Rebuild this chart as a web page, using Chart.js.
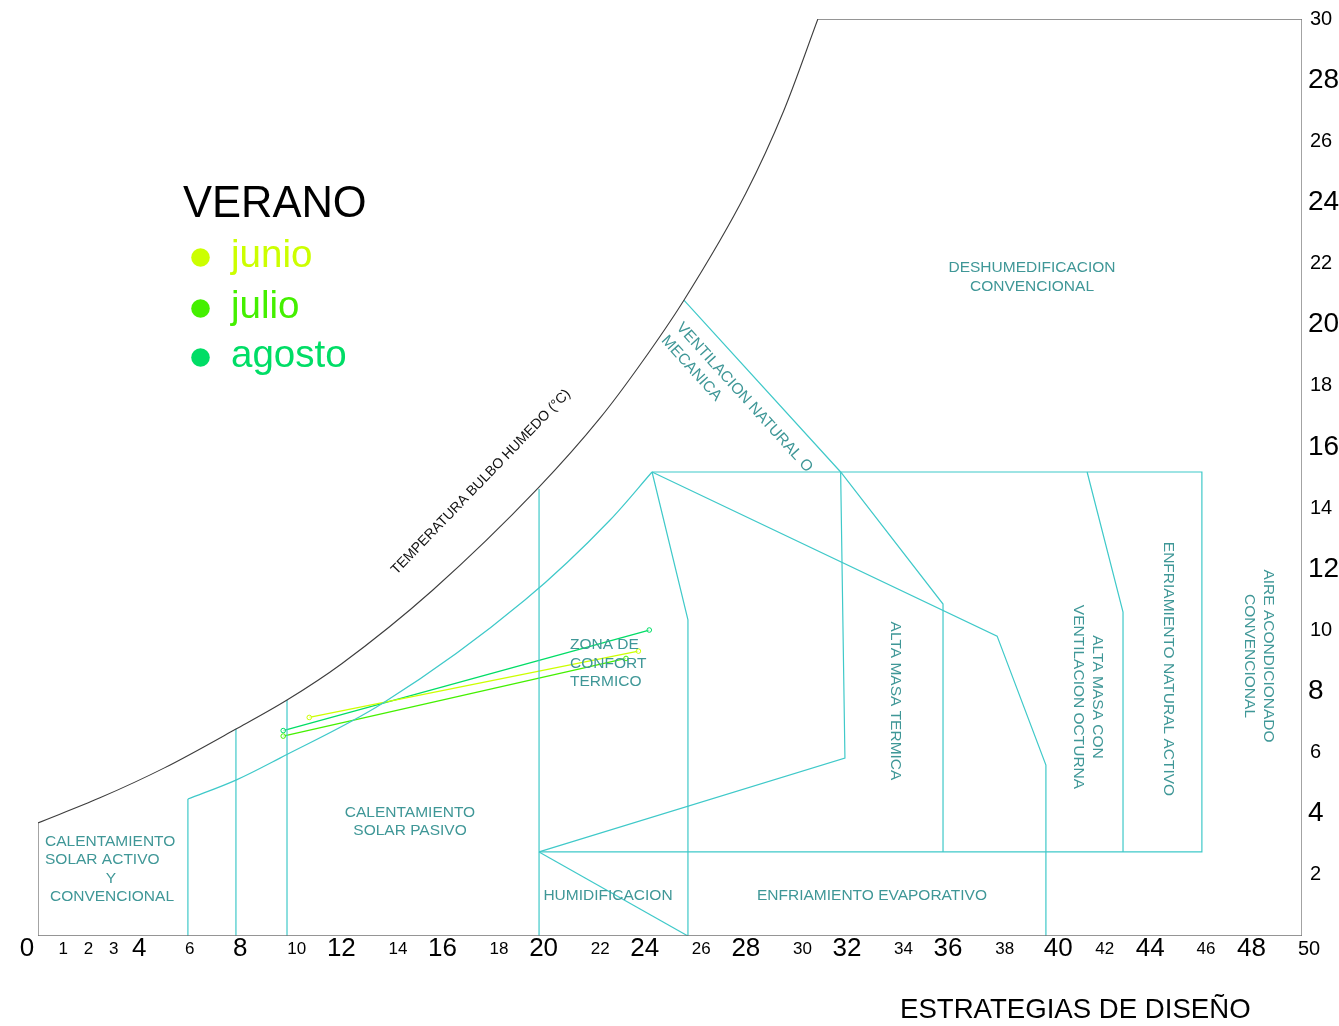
<!DOCTYPE html>
<html>
<head>
<meta charset="utf-8">
<script src="https://cdn.jsdelivr.net/npm/chart.js@4.4.1/dist/chart.umd.min.js"></script>
<style>
  html, body { margin: 0; padding: 0; background: #ffffff; }
  canvas { display: block; }
</style>
</head>
<body>
<canvas id="chart" width="1339" height="1026"></canvas>
<script>
// Bioclimatic chart: dry-bulb temperature (°C, x) vs. absolute humidity (g/kg, y)

// ---- axis ticks ----
const xTickValues = [0, 1, 2, 3, 4, 6, 8, 10, 12, 14, 16, 18, 20, 22, 24, 26, 28, 30, 32, 34, 36, 38, 40, 42, 44, 46, 48, 50];
const yTickValues = [2, 4, 6, 8, 10, 12, 14, 16, 18, 20, 22, 24, 26, 28, 30];

// ---- saturation curve (wet-bulb line) and chart frame ----
const saturation = [[0, 3.7], [2.45, 4.52], [5, 5.5], [7.83, 6.77], [9.85, 7.72], [12, 8.9], [15.62, 11.32],
  [19.78, 14.65], [22.23, 16.94], [23.81, 18.68], [25.55, 20.8], [28, 24.3], [29.5, 27.0], [30.85, 30]];
const frame = [[30.85, 30], [50, 30], [50, 0], [0, 0], [0, 3.7]];

// ---- strategy zone boundaries ----
const edgeActiveSolar = [[5.93, 0], [5.93, 4.48]];
const edgeAt8 = [[7.83, 0], [7.83, 6.77]];
const edgeAt10 = [[9.85, 0], [9.85, 7.72]];
const edgeAt20 = [[19.82, 0], [19.82, 14.62]];
const comfortCurve = [[5.93, 4.48], [7.83, 5.10], [9.57, 5.82], [13.65, 7.62], [19.26, 10.99], [22.63, 13.61], [24.29, 15.18]];
const coolingBox = [[24.29, 15.18], [46.04, 15.18], [46.04, 2.75], [19.82, 2.75]];
const comfortRight = [[24.29, 15.18], [25.71, 10.34], [25.71, 0]];
const humidification = [[19.82, 2.75], [25.71, 0]];
const evaporativeEdge = [[24.29, 15.18], [37.94, 9.81], [39.87, 5.59], [39.87, 0]];
const thermalMassEdge = [[19.82, 2.75], [31.92, 5.82], [31.75, 15.18]];
const ventilationEdge = [[25.55, 20.8], [31.75, 15.18], [35.8, 10.86], [35.8, 2.75]];
const nightVentEdge = [[41.5, 15.18], [42.92, 10.6], [42.92, 2.75]];
const footMarker = [[50, -1.5]];

// ---- monthly climate lines (summer) ----
const monthNames = ['junio', 'julio', 'agosto'];
const junio = [[10.73, 7.15], [23.75, 9.32]];
const julio = [[9.70, 6.54], [23.26, 9.08]];
const agosto = [[9.70, 6.72], [24.18, 10.01]];

// ---- styles ----
const ZONE_LINE = '#3fc9c9';
const ZONE_TEXT = '#3f9797';
const MONTH_COLORS = ['#ccff00', '#44f000', '#00dd66'];
const FONT = '"Liberation Sans", Arial, Helvetica, sans-serif';

const pts = arr => arr.map(([x, y]) => ({ x, y }));

function lineSet(data, color, width, extra) {
  return Object.assign({
    data: pts(data), borderColor: color, borderWidth: width, showLine: true,
    pointRadius: 0, fill: false, tension: 0
  }, extra || {});
}

const zoneSets = [edgeActiveSolar, edgeAt8, edgeAt10, edgeAt20, coolingBox, comfortRight,
  humidification, evaporativeEdge, thermalMassEdge, ventilationEdge, nightVentEdge]
  .map(d => lineSet(d, ZONE_LINE, 1.2));

const monthSets = [junio, julio, agosto].map((d, i) => lineSet(d, MONTH_COLORS[i], 1.3, {
  label: monthNames[i], pointRadius: 2.3, pointBorderWidth: 1,
  pointBorderColor: MONTH_COLORS[i], pointBackgroundColor: 'rgba(255,255,255,0.6)'
}));

const datasets = [
  lineSet(frame, '#737373', 1.3),
  lineSet(saturation, '#3d3d3d', 1.1, { cubicInterpolationMode: 'monotone' }),
  lineSet(comfortCurve, ZONE_LINE, 1.2, { cubicInterpolationMode: 'monotone' }),
  ...zoneSets,
  ...monthSets,
  { data: pts(footMarker), showLine: false, pointRadius: 1.8, pointBorderWidth: 1,
    pointBorderColor: ZONE_LINE, pointBackgroundColor: '#ffffff', clip: false }
];

// ---- text layout ----
const xLabelNudge = { 0: -11, 10: 6, 14: 6, 18: 6, 22: 6, 26: 6, 30: 6, 34: 6, 38: 6, 40: 9, 42: 5, 46: 5, 50: 7 };

const zoneLabels = [
  { text: 'CALENTAMIENTO', x: 45, y: 842, align: 'left' },
  { text: 'SOLAR ACTIVO', x: 45, y: 860, align: 'left' },
  { text: 'Y', x: 111, y: 879 },
  { text: 'CONVENCIONAL', x: 112, y: 897 },
  { text: 'CALENTAMIENTO', x: 410, y: 813 },
  { text: 'SOLAR PASIVO', x: 410, y: 831 },
  { text: 'ZONA DE', x: 570, y: 645, align: 'left' },
  { text: 'CONFORT', x: 570, y: 664, align: 'left' },
  { text: 'TERMICO', x: 570, y: 682, align: 'left' },
  { text: 'HUMIDIFICACION', x: 608, y: 896 },
  { text: 'ENFRIAMIENTO EVAPORATIVO', x: 872, y: 896 },
  { text: 'DESHUMEDIFICACION', x: 1032, y: 268 },
  { text: 'CONVENCIONAL', x: 1032, y: 287 },
  { text: 'VENTILACION NATURAL O', x: 679, y: 325, align: 'left', rot: 48 },
  { text: 'MECANICA', x: 664, y: 338, align: 'left', rot: 48 },
  { text: 'ALTA MASA TERMICA', x: 895, y: 701, rot: 90 },
  { text: 'ALTA MASA CON', x: 1097, y: 697, rot: 90 },
  { text: 'VENTILACION OCTURNA', x: 1078, y: 697, rot: 90 },
  { text: 'ENFRIAMIENTO NATURAL ACTIVO', x: 1168, y: 669, rot: 90 },
  { text: 'AIRE ACONDICIONADO', x: 1268, y: 656, rot: 90 },
  { text: 'CONVENCIONAL', x: 1249, y: 656, rot: 90 }
];

function drawText(ctx, t) {
  ctx.save();
  ctx.font = (t.size || 15.5) + 'px ' + FONT;
  ctx.fillStyle = t.color || ZONE_TEXT;
  ctx.textAlign = t.align || 'center';
  ctx.textBaseline = t.baseline || 'middle';
  ctx.translate(t.x, t.y);
  if (t.rot) ctx.rotate(t.rot * Math.PI / 180);
  ctx.fillText(t.text, 0, 0);
  ctx.restore();
}

const annotate = {
  id: 'annotate',
  afterDatasetsDraw(chart) {
    const ctx = chart.ctx;
    const xs = chart.scales.x, ys = chart.scales.y;

    // x tick labels
    xTickValues.forEach(v => {
      const big = v % 4 === 0;
      const size = v === 50 ? 20 : (big ? 26 : 17);
      drawText(ctx, { text: String(v), x: xs.getPixelForValue(v) + (xLabelNudge[v] || 0),
        y: 949, size, color: '#000' });
    });
    // y tick labels (right side)
    yTickValues.forEach(v => {
      const big = v % 4 === 0;
      drawText(ctx, { text: String(v), x: xs.getPixelForValue(50) + (big ? 6 : 8),
        y: ys.getPixelForValue(v), size: big ? 28 : 20, align: 'left', color: '#000' });
    });

    zoneLabels.forEach(t => drawText(ctx, t));

    drawText(ctx, { text: 'TEMPERATURA BULBO HUMEDO (°C)', x: 481, y: 482, rot: -46, size: 14, color: '#111' });

    // season legend
    drawText(ctx, { text: 'VERANO', x: 183, y: 217, size: 43.5, align: 'left', baseline: 'alphabetic', color: '#000' });
    const legendY = [267, 318, 367];
    monthNames.forEach((m, i) => {
      ctx.save();
      ctx.fillStyle = MONTH_COLORS[i];
      ctx.beginPath();
      ctx.arc(200.5, legendY[i] - 9.5, 9.3, 0, Math.PI * 2);
      ctx.fill();
      ctx.restore();
      drawText(ctx, { text: m, x: 231, y: legendY[i], size: 38.5, align: 'left', baseline: 'alphabetic', color: MONTH_COLORS[i] });
    });

    drawText(ctx, { text: 'ESTRATEGIAS DE DISEÑO', x: 900, y: 1018, size: 27.6, align: 'left', baseline: 'alphabetic', color: '#000' });
  }
};

new Chart(document.getElementById('chart'), {
  type: 'scatter',
  data: { datasets },
  options: {
    responsive: false,
    devicePixelRatio: 1,
    animation: false,
    layout: { padding: { left: 38, right: 37, top: 19, bottom: 90 } },
    scales: {
      x: { type: 'linear', min: 0, max: 50, display: false },
      y: { type: 'linear', min: 0, max: 30, display: false }
    },
    plugins: { legend: { display: false }, tooltip: { enabled: false } },
    elements: { line: { borderCapStyle: 'butt', borderJoinStyle: 'miter' } }
  },
  plugins: [annotate]
});
</script>
</body>
</html>
